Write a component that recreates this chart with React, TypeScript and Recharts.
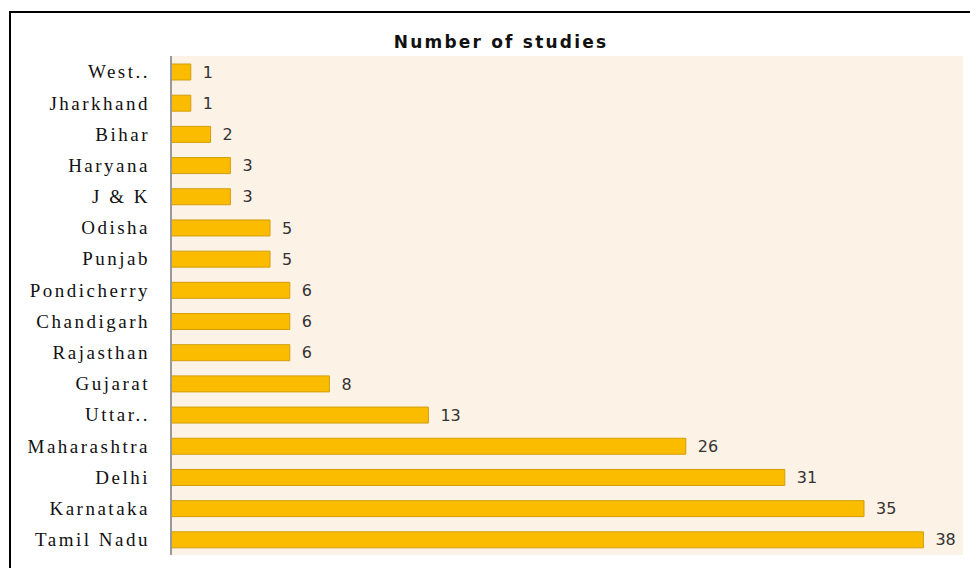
import { BarChart, Bar, XAxis, YAxis, CartesianGrid, LabelList } from 'recharts';

const states = [
    'West..',
    'Jharkhand',
    'Bihar',
    'Haryana',
    'J & K',
    'Odisha',
    'Punjab',
    'Pondicherry',
    'Chandigarh',
    'Rajasthan',
    'Gujarat',
    'Uttar..',
    'Maharashtra',
    'Delhi',
    'Karnataka',
    'Tamil Nadu'
];
const studies = [1, 1, 2, 3, 3, 5, 5, 6, 6, 6, 8, 13, 26, 31, 35, 38];

const data = states.map((state, i) => ({ state, studies: studies[i] }));

export default function App() {
    return (
        <div style={{ position: 'relative', width: 978, height: 576, margin: -8, background: '#fff', overflow: 'hidden' }}>
            <div
                style={{
                    position: 'absolute',
                    left: 9,
                    top: 11,
                    right: 0,
                    bottom: 0,
                    borderTop: '2px solid #000',
                    borderLeft: '2px solid #000'
                }}
            />
            <div
                style={{
                    position: 'absolute',
                    left: 301,
                    top: 32,
                    width: 400,
                    textAlign: 'center',
                    fontFamily: 'DejaVu Sans',
                    fontWeight: 'bold',
                    fontSize: 17,
                    lineHeight: '20px',
                    letterSpacing: 2.2,
                    color: '#111'
                }}
            >
                Number of studies
            </div>
            <div style={{ position: 'absolute', left: 0, top: 0 }}>
                <BarChart
                    width={978}
                    height={576}
                    data={data}
                    layout='vertical'
                    margin={{ top: 56, right: 15, bottom: 21, left: 0 }}
                    barCategoryGap={0}
                >
                    <CartesianGrid fill='#FDF2E6' stroke='none' horizontal={false} vertical={false} />
                    <XAxis type='number' domain={[0, 40]} hide />
                    <YAxis
                        type='category'
                        dataKey='state'
                        width={171}
                        axisLine={{ stroke: '#999', strokeWidth: 2 }}
                        tickLine={false}
                        tickSize={0}
                        tickMargin={21}
                        interval={0}
                        tick={{ fill: '#111', fontFamily: 'Liberation Serif', fontSize: 19, letterSpacing: 2.5 }}
                    />
                    <Bar dataKey='studies' fill='#FBBC00' stroke='#D29E0A' strokeWidth={1} barSize={16} isAnimationActive={false}>
                        <LabelList dataKey='studies' position='right' offset={12} fill='#333' fontFamily='DejaVu Sans' fontSize={16} />
                    </Bar>
                </BarChart>
            </div>
        </div>
    );
}
